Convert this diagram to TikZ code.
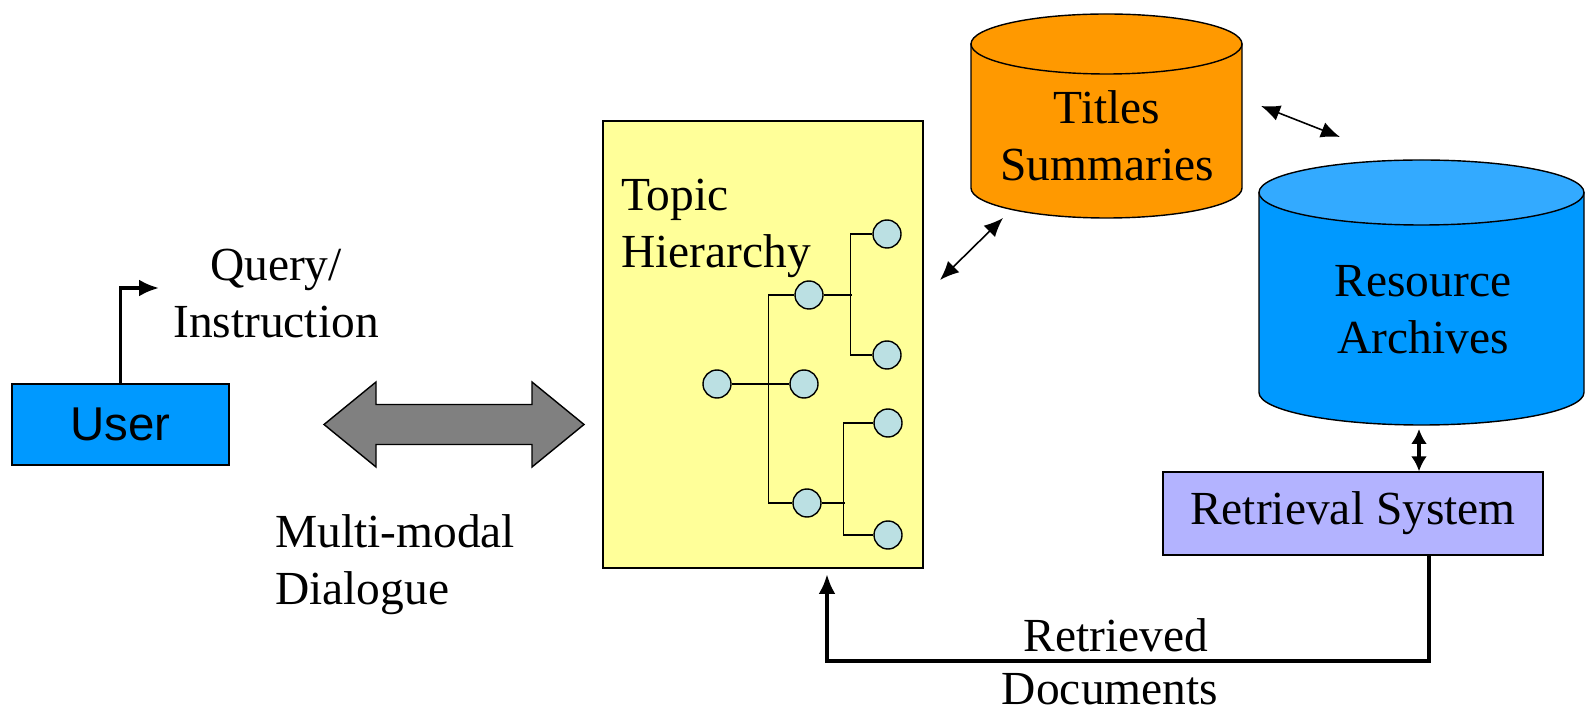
\documentclass[tikz,border=0pt]{standalone}
\usepackage{fontspec}
\setmainfont{Liberation Serif}
\newfontfamily\arialfont{Liberation Sans}
\usetikzlibrary{arrows.meta}
\definecolor{userblue}{RGB}{0,153,255}
\definecolor{archtop}{RGB}{51,170,255}
\definecolor{titleorange}{RGB}{255,153,0}
\definecolor{topicyellow}{RGB}{255,255,153}
\definecolor{nodecyan}{RGB}{187,224,227}
\definecolor{retrlilac}{RGB}{179,179,255}
\begin{document}
\begin{tikzpicture}[font=\fontsize{27}{32.4}\selectfont,
          box/.style={draw, line width=0.8pt, inner sep=0pt},
          tnode/.style={circle, draw, line width=0.8pt, fill=nodecyan, minimum size=0.56cm, inner sep=0pt},
          link/.style={line width=0.8pt},
          cyl/.style={draw, line width=0.8pt},
          thinarr/.style={{Latex[length=3.8mm,width=3.2mm]}-{Latex[length=3.8mm,width=3.2mm]}, line width=0.9pt},
          heavy/.style={-{Latex[length=4mm,width=3.4mm]}, line width=2.4pt}]
        \useasboundingbox (0,0) rectangle (31.72,14.2);
        % user side
        \node[box, fill=userblue, minimum width=4.34cm, minimum height=1.62cm] (usr) at (2.41,5.71) {\arialfont User};
        \coordinate (qend) at (3.18,8.44);
        \draw[heavy, line width=2pt] (usr.north) |- (qend);
        \node[align=center] (query) at (5.52,8.33) {Query/\\Instruction};
        \fill[fill=black!50, draw=black, line width=0.8pt]
          (6.48,5.71) -- (7.52,6.56) -- (7.52,6.11) -- (10.64,6.11) -- (10.64,6.56) -- (11.68,5.71)
          -- (10.64,4.86) -- (10.64,5.31) -- (7.52,5.31) -- (7.52,4.86) -- cycle;
        \node[anchor=west, align=left] (dlg) at (5.38,2.90) {Multi-modal\\Dialogue};
        % topic hierarchy
        \node[box, fill=topicyellow, minimum width=6.4cm, minimum height=8.94cm] (topic) at (15.26,7.31) {};
        \node[anchor=west, align=left] (tlabel) at (12.30,9.64) {Topic\\Hierarchy};
        \node[tnode] (ta) at (14.34,6.52) {};
        \node[tnode] (tb) at (16.18,8.30) {};
        \node[tnode] (tc) at (16.08,6.52) {};
        \node[tnode] (td) at (16.14,4.14) {};
        \node[tnode] (te) at (17.74,9.52) {};
        \node[tnode] (tf) at (17.74,7.10) {};
        \node[tnode] (tg) at (17.76,5.74) {};
        \node[tnode] (th) at (17.76,3.50) {};
        \draw[link] (ta) -- (tc);
        \draw[link] (tb.west) -- ++(-0.52,0) |- (td.west);
        \draw[link] (tb.east) -- ++(0.56,0);
        \draw[link] (te.west) -- ++(-0.44,0) |- (tf.west);
        \draw[link] (td.east) -- ++(0.46,0);
        \draw[link] (tg.west) -- ++(-0.6,0) |- (th.west);
        % titles store
        \filldraw[cyl, fill=titleorange] (19.42,13.32) -- (19.42,10.44)
          arc[start angle=180, end angle=360, x radius=2.71, y radius=0.6] -- (24.84,13.32) -- cycle;
        \filldraw[cyl, fill=titleorange] (22.13,13.32) ellipse (2.71 and 0.6);
        \node[align=center] (titles) at (22.14,11.49) {Titles\\Summaries};
        % resource archives
        \filldraw[cyl, fill=userblue] (25.18,10.35) -- (25.18,6.35)
          arc[start angle=180, end angle=360, x radius=3.25, y radius=0.65] -- (31.68,10.35) -- cycle;
        \filldraw[cyl, fill=archtop] (28.43,10.35) ellipse (3.25 and 0.65);
        \node[align=center] (archives) at (28.46,8.0) {Resource\\Archives};
        \coordinate (tsl) at (25.22,12.08);
        \coordinate (asl) at (26.80,11.46);
        \draw[thinarr] (tsl) -- (asl);
        \coordinate (tpr) at (18.80,8.60);
        \coordinate (tsb) at (20.06,9.84);
        \draw[thinarr] (tpr) -- (tsb);
        % retrieval
        \node[box, fill=retrlilac, minimum width=7.6cm, minimum height=1.66cm] (retr) at (27.06,3.93) {Retrieval System};
        \coordinate (abot) at (28.38,5.62);
        \draw[{Latex[length=3mm,width=3.2mm]}-{Latex[length=3mm,width=3.2mm]}, line width=2pt] (abot) -- (abot |- retr.north);
        \coordinate (rd) at (28.58,0.98);
        \coordinate (tin) at (16.54,2.72);
        \draw[heavy] (retr.south -| rd) -- (rd) -| (tin);
        \node (rlab) at (22.32,1.50) {Retrieved};
        \node[inner sep=0pt] (dlab) at (22.20,0.42) {Documents};
      \end{tikzpicture}
\end{document}
